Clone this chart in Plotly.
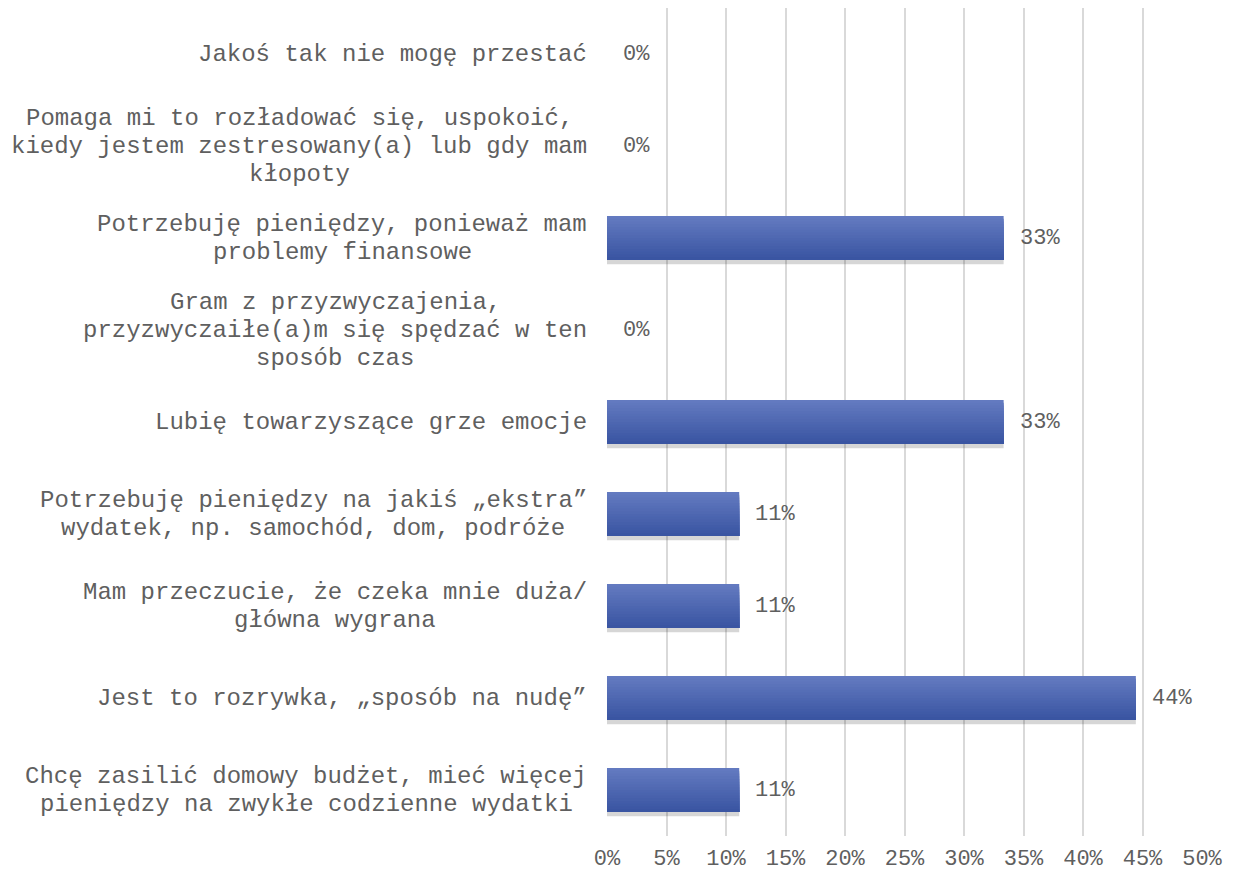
import plotly.graph_objects as go

categories = [
    "Jakoś tak nie mogę przestać",
    "Pomaga mi to rozładować się, uspokoić,<br>kiedy jestem zestresowany(a) lub gdy mam<br>kłopoty",
    "Potrzebuję pieniędzy, ponieważ mam<br>problemy finansowe",
    "Gram z przyzwyczajenia,<br>przyzwyczaiłe(a)m się spędzać w ten<br>sposób czas",
    "Lubię towarzyszące grze emocje",
    "Potrzebuję pieniędzy na jakiś „ekstra”<br>wydatek, np. samochód, dom, podróże",
    "Mam przeczucie, że czeka mnie duża/<br>główna wygrana",
    "Jest to rozrywka, „sposób na nudę”",
    "Chcę zasilić domowy budżet, mieć więcej<br>pieniędzy na zwykłe codzienne wydatki",
]
values = [0, 0, 33.33, 0, 33.33, 11.11, 11.11, 44.44, 11.11]
value_labels = ["0%", "0%", "33%", "0%", "33%", "11%", "11%", "44%", "11%"]
tick_vals = [0, 5, 10, 15, 20, 25, 30, 35, 40, 45, 50]
tick_text = ["0%", "5%", "10%", "15%", "20%", "25%", "30%", "35%", "40%", "45%", "50%"]

font_family = "Courier New, Liberation Mono, monospace"
text_color = "#5f5f5f"
font_size = 24          # category labels
small_size = 22         # value and axis labels
char_w = 0.6 * font_size   # monospace advance
line_h = 28

cat_ids = list(range(len(categories)))
bar_w = 0.48

fig = go.Figure()

# soft shadow under the bars
fig.add_trace(go.Bar(
    x=values, y=cat_ids, orientation="h",
    width=bar_w, offset=-bar_w / 2 + 0.045,
    marker=dict(color="rgba(0,0,0,0.16)", line=dict(width=0)),
    hoverinfo="skip",
))

# vertical gradient: each layer runs from its start down to the bar bottom,
# later (darker) layers drawn on top
top_rgb = (99, 122, 192)
bot_rgb = (58, 85, 162)
n_slices = 16
for k in range(n_slices):
    t = k / (n_slices - 1)
    c = tuple(round(a + (b - a) * t) for a, b in zip(top_rgb, bot_rgb))
    start = k * bar_w / n_slices
    fig.add_trace(go.Bar(
        x=values, y=cat_ids, orientation="h",
        width=bar_w - start,
        offset=-bar_w / 2 + start,
        marker=dict(color="rgb(%d,%d,%d)" % c, line=dict(width=0)),
        hoverinfo="x" if k == 0 else "skip",
    ))

annotations = []
# category labels: lines centred on each other, block's right edge near the axis
for i, cat in enumerate(categories):
    lines = cat.split("<br>")
    widest = max(len(s) for s in lines)
    n = len(lines)
    for j, s in enumerate(lines):
        annotations.append(dict(
            x=0, xref="paper", y=i, yref="y",
            text=s, showarrow=False,
            xanchor="center", yanchor="middle",
            xshift=-20 - widest * char_w / 2,
            yshift=((n - 1) / 2 - j) * line_h,
            font=dict(family=font_family, size=font_size, color=text_color),
        ))
# value labels at bar ends
for i, (v, lab) in enumerate(zip(values, value_labels)):
    annotations.append(dict(
        x=v, xref="x", y=i, yref="y",
        text=lab, showarrow=False,
        xanchor="left", yanchor="middle",
        xshift=14,
        font=dict(family=font_family, size=small_size, color=text_color),
    ))

fig.update_layout(
    width=1225, height=866,
    margin=dict(l=599, r=31, t=0, b=38),
    paper_bgcolor="white",
    plot_bgcolor="white",
    showlegend=False,
    barmode="overlay",
    annotations=annotations,
    font=dict(family=font_family, size=font_size, color=text_color),
    xaxis=dict(
        range=[0, 50],
        tickvals=tick_vals,
        ticktext=tick_text,
        showgrid=True,
        gridcolor="#d9d9d9",
        gridwidth=1.5,
        zeroline=False,
        showline=False,
        ticks="",
        automargin=False,
        ticklabelstandoff=6,
        tickfont=dict(family=font_family, size=small_size, color=text_color),
    ),
    yaxis=dict(
        range=[len(categories) - 0.5, -0.5],
        showticklabels=False,
        showgrid=False,
        zeroline=False,
        showline=False,
        ticks="",
        automargin=False,
    ),
)

fig.write_html("out.html")
